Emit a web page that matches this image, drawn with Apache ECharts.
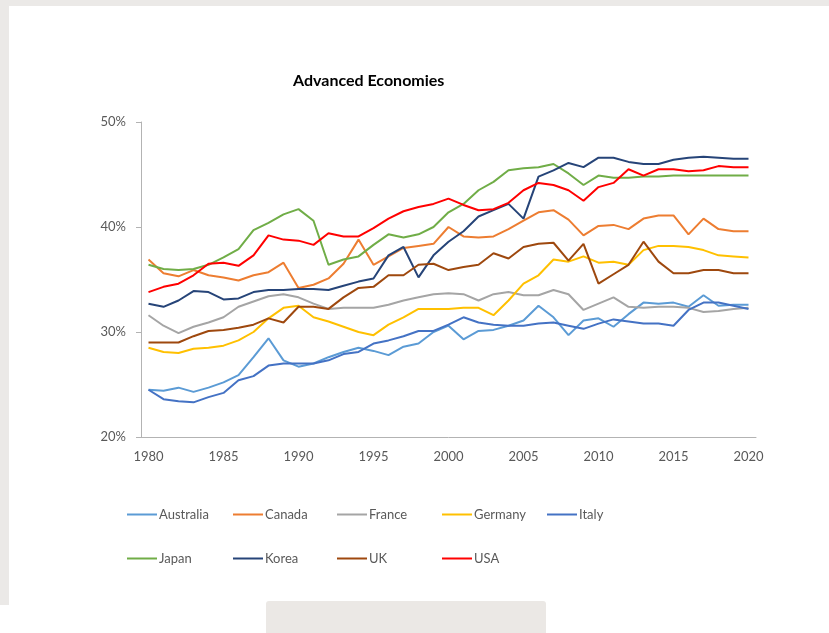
<!DOCTYPE html>
<html>
<head>
<meta charset="utf-8">
<script src="https://cdn.jsdelivr.net/npm/echarts@6/dist/echarts.min.js"></script>
<style>
  html, body { margin: 0; padding: 0; }
  body { width: 829px; height: 633px; background: #ebe9e7; position: relative; overflow: hidden; }
  .panel { position: absolute; left: 9px; top: 6px; right: 0; bottom: 0; background: #fff; }
  .panel-low { position: absolute; left: 0; top: 605px; width: 20px; bottom: 0; background: #fff; }
  .tab { position: absolute; left: 266px; top: 601px; width: 280px; height: 32px; background: #ebe8e5; border-radius: 3px 3px 0 0; }
  #chart { position: absolute; left: 0; top: 0; width: 829px; height: 633px; }
</style>
</head>
<body>
<div class="panel"></div>
<div class="panel-low"></div>
<div class="tab"></div>
<div id="chart"></div>
<script>
const years = [
  "1980", "1981", "1982", "1983", "1984", "1985", "1986", "1987", "1988", "1989",
  "1990", "1991", "1992", "1993", "1994", "1995", "1996", "1997", "1998", "1999",
  "2000", "2001", "2002", "2003", "2004", "2005", "2006", "2007", "2008", "2009",
  "2010", "2011", "2012", "2013", "2014", "2015", "2016", "2017", "2018", "2019", "2020"
];

// share of GDP, %
const australia = [24.5, 24.4, 24.7, 24.3, 24.7, 25.2, 25.9, 27.6, 29.4, 27.3,
  26.7, 27.0, 27.6, 28.1, 28.5, 28.2, 27.8, 28.6, 28.9, 30.0,
  30.6, 29.3, 30.1, 30.2, 30.6, 31.1, 32.5, 31.4, 29.7, 31.1,
  31.3, 30.5, 31.7, 32.8, 32.7, 32.8, 32.4, 33.5, 32.5, 32.6, 32.6];
const canada = [36.9, 35.6, 35.3, 35.9, 35.4, 35.2, 34.9, 35.4, 35.7, 36.6,
  34.2, 34.5, 35.1, 36.5, 38.8, 36.4, 37.2, 38.0, 38.2, 38.4,
  40.0, 39.1, 39.0, 39.1, 39.8, 40.6, 41.4, 41.6, 40.7, 39.2,
  40.1, 40.2, 39.8, 40.8, 41.1, 41.1, 39.3, 40.8, 39.8, 39.6, 39.6];
const france = [31.6, 30.6, 29.9, 30.5, 30.9, 31.4, 32.4, 32.9, 33.4, 33.6,
  33.3, 32.7, 32.2, 32.3, 32.3, 32.3, 32.6, 33.0, 33.3, 33.6,
  33.7, 33.6, 33.0, 33.6, 33.8, 33.5, 33.5, 34.0, 33.6, 32.1,
  32.7, 33.3, 32.4, 32.3, 32.4, 32.4, 32.3, 31.9, 32.0, 32.2, 32.3];
const germany = [28.5, 28.1, 28.0, 28.4, 28.5, 28.7, 29.2, 30.0, 31.3, 32.3,
  32.5, 31.4, 31.0, 30.5, 30.0, 29.7, 30.7, 31.4, 32.2, 32.2,
  32.2, 32.3, 32.3, 31.6, 33.0, 34.6, 35.4, 36.9, 36.7, 37.2,
  36.6, 36.7, 36.4, 37.8, 38.2, 38.2, 38.1, 37.8, 37.3, 37.2, 37.1];
const italy = [24.5, 23.6, 23.4, 23.3, 23.8, 24.2, 25.4, 25.8, 26.8, 27.0,
  27.0, 27.0, 27.3, 27.9, 28.1, 28.9, 29.2, 29.6, 30.1, 30.1,
  30.7, 31.4, 30.9, 30.7, 30.6, 30.6, 30.8, 30.9, 30.6, 30.3,
  30.8, 31.2, 31.0, 30.8, 30.8, 30.6, 32.1, 32.8, 32.8, 32.5, 32.2];
const japan = [36.4, 36.0, 35.9, 36.0, 36.4, 37.1, 37.9, 39.7, 40.4, 41.2,
  41.7, 40.6, 36.4, 36.9, 37.2, 38.3, 39.3, 39.0, 39.3, 40.0,
  41.4, 42.2, 43.5, 44.3, 45.4, 45.6, 45.7, 46.0, 45.1, 44.0,
  44.9, 44.7, 44.7, 44.8, 44.8, 44.9, 44.9, 44.9, 44.9, 44.9, 44.9];
const korea = [32.7, 32.4, 33.0, 33.9, 33.8, 33.1, 33.2, 33.8, 34.0, 34.0,
  34.1, 34.1, 34.0, 34.4, 34.8, 35.1, 37.3, 38.1, 35.2, 37.3,
  38.6, 39.6, 41.0, 41.6, 42.2, 40.8, 44.8, 45.4, 46.1, 45.7,
  46.6, 46.6, 46.2, 46.0, 46.0, 46.4, 46.6, 46.7, 46.6, 46.5, 46.5];
const uk = [29.0, 29.0, 29.0, 29.6, 30.1, 30.2, 30.4, 30.7, 31.3, 30.9,
  32.4, 32.4, 32.2, 33.3, 34.2, 34.3, 35.4, 35.4, 36.4, 36.5,
  35.9, 36.2, 36.4, 37.5, 37.0, 38.1, 38.4, 38.5, 36.8, 38.4,
  34.6, 35.5, 36.4, 38.6, 36.7, 35.6, 35.6, 35.9, 35.9, 35.6, 35.6];
const usa = [33.8, 34.3, 34.6, 35.4, 36.5, 36.6, 36.3, 37.3, 39.2, 38.8,
  38.7, 38.3, 39.4, 39.1, 39.1, 39.9, 40.8, 41.5, 41.9, 42.2,
  42.7, 42.1, 41.6, 41.7, 42.3, 43.5, 44.2, 44.0, 43.5, 42.5,
  43.8, 44.2, 45.5, 44.9, 45.5, 45.5, 45.3, 45.4, 45.8, 45.7, 45.7];

const names = ["Australia", "Canada", "France", "Germany", "Italy", "Japan", "Korea", "UK", "USA"];
const values = [australia, canada, france, germany, italy, japan, korea, uk, usa];
const colors = ["#5b9bd5", "#ed7d31", "#a5a5a5", "#ffc000", "#4472c4", "#70ad47", "#264478", "#9e480e", "#ff0000"];

const FONT = "Lato, 'Open Sans', sans-serif";
const legendPos = [
  [127, 508], [233, 508], [337, 508], [442, 508], [547, 508],
  [127, 552], [233, 552], [337, 552], [442, 552]
];

const myChart = echarts.init(document.getElementById("chart"), null, { renderer: "canvas" });

const option = {
  backgroundColor: "transparent",
  animation: false,
  textStyle: { fontFamily: FONT },
  title: {
    text: "Advanced Economies",
    left: 293,
    top: 73,
    padding: 0,
    textStyle: { fontFamily: FONT, fontSize: 16, fontWeight: "bold", color: "#000" }
  },
  legend: names.map((n, i) => ({
    data: [n],
    left: legendPos[i][0],
    top: legendPos[i][1],
    icon: "rect",
    itemWidth: 30,
    itemHeight: 2,
    padding: 0,
    selectedMode: false,
    textStyle: { fontFamily: FONT, fontSize: 13, color: "#595959", padding: [0, 0, 0, -3] }
  })),
  grid: { left: 141, right: 73, top: 122, bottom: 196, containLabel: false },
  xAxis: {
    type: "category",
    data: years,
    boundaryGap: true,
    axisLine: { lineStyle: { color: "#b3b3b3", width: 1 } },
    axisTick: { interval: 4, inside: true, length: 4, lineStyle: { color: "#b3b3b3" } },
    axisLabel: { interval: 4, margin: 13, fontFamily: FONT, fontSize: 13, color: "#595959" },
    splitLine: { show: false }
  },
  yAxis: {
    type: "value",
    min: 20,
    max: 50,
    interval: 10,
    axisLine: { show: true, lineStyle: { color: "#b3b3b3", width: 1 } },
    axisTick: { show: true, length: 5, lineStyle: { color: "#b3b3b3" } },
    axisLabel: { formatter: "{value}%", margin: 15, fontFamily: FONT, fontSize: 13, color: "#595959" },
    splitLine: { show: false }
  },
  series: names.map((n, i) => ({
    name: n,
    type: "line",
    data: values[i],
    symbol: "none",
    smooth: false,
    color: colors[i],
    lineStyle: { width: 2, color: colors[i] }
  }))
};

myChart.setOption(option);
</script>
</body>
</html>
